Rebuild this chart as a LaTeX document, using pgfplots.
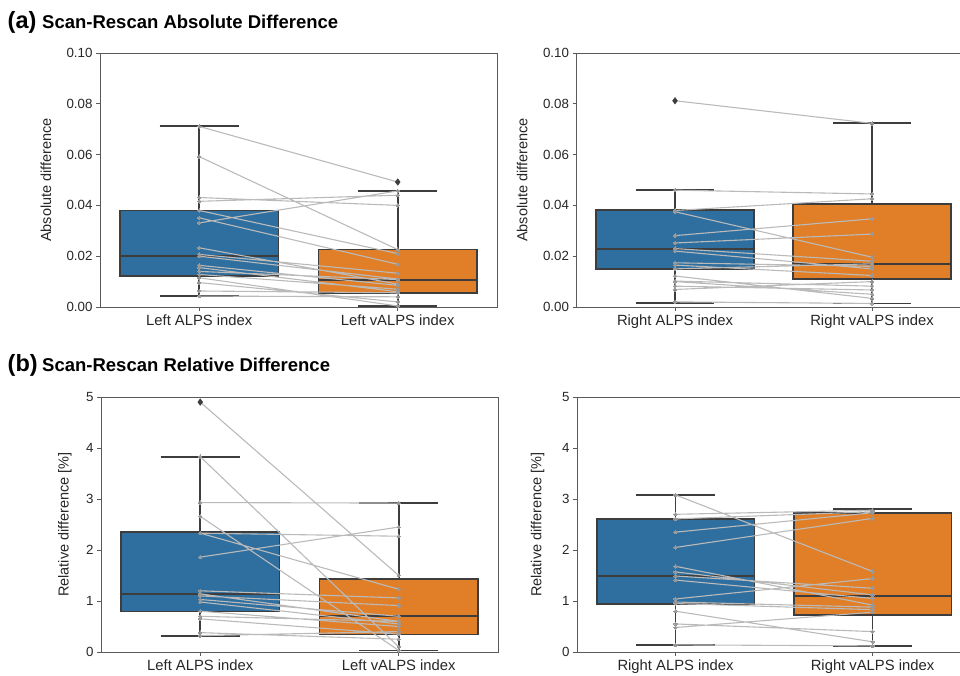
\documentclass[border=0pt]{standalone}
\usepackage{fontspec}
\setmainfont{Liberation Sans}
\usepackage{pgfplots}
\pgfplotsset{compat=1.18}
\usepgfplotslibrary{statistics}
\definecolor{sbblue}{HTML}{2E6FA0}
\definecolor{sborange}{HTML}{E07F28}
\definecolor{edge}{HTML}{3D3D3D}
\definecolor{pair}{HTML}{BABABA}
\definecolor{pairdot}{HTML}{999999}
\definecolor{frame}{HTML}{5A5A5A}
\pgfplotsset{
  panel/.style={scale only axis, anchor=south west, clip=false,
    xmin=-0.5, xmax=1.5, xtick={0,1},
    axis line style={frame, line width=0.9pt},
    tick style={frame, line width=0.9pt},
    tick align=outside, major tick length=4pt,
    xtick pos=bottom, ytick pos=left,
    yticklabel style={font=\fontsize{13.3}{15}\selectfont, text=black!85},
    xticklabel style={font=\fontsize{14.8}{17}\selectfont, text=black!85},
    label style={font=\fontsize{14.5}{16}\selectfont, text=black!85},
    /pgf/number format/assume math mode=true,
    boxplot/draw direction=y,
    boxplot/every median/.style={draw=edge, line width=1.9pt},
    boxplot/every whisker/.style={draw=edge, line width=1.8pt}},
  bx/.style={draw=edge, line width=1.6pt, fill=#1},
  pairs/.style={pair, line width=1.1pt, unbounded coords=jump, mark=*, mark size=1.7pt,
    mark options={draw=pairdot, fill=pairdot, line width=0pt}},
  outl/.style={only marks, mark=diamond*, mark size=3.2pt, mark options={draw=edge, fill=edge, line width=0.5pt}},
}
\begin{document}
\begin{tikzpicture}
\useasboundingbox (0,0) rectangle (960pt,676pt);
\clip (0,0) rectangle (960pt,676pt);

\node[anchor=base west, inner sep=0, font=\fontsize{23.5}{26}\selectfont\bfseries] at (7.5pt,647.5pt) {(a)};
\node[anchor=base west, inner sep=0, font=\fontsize{18.5}{21}\selectfont\bfseries] at (42pt,647.7pt) {Scan-Rescan Absolute Difference};
\node[anchor=base west, inner sep=0, font=\fontsize{23.5}{26}\selectfont\bfseries] at (7.5pt,304.3pt) {(b)};
\node[anchor=base west, inner sep=0, font=\fontsize{18.5}{21}\selectfont\bfseries] at (42pt,304.3pt) {Scan-Rescan Relative Difference};

% (a) left
\begin{axis}[panel, at={(100pt,369pt)}, width=397pt, height=254pt,
  ymin=0, ymax=0.1, ytick={0,0.02,0.04,0.06,0.08,0.1},
  yticklabel style={/pgf/number format/fixed, /pgf/number format/fixed zerofill, /pgf/number format/precision=2},
  xticklabels={Left ALPS index, Left vALPS index},
  ylabel={Absolute difference},
  ylabel style={at={(axis description cs:-0.136,0.5)}, anchor=center}]
\addplot[bx=sbblue, boxplot prepared={draw position=0, lower whisker=0.0043, lower quartile=0.0123, median=0.0202, upper quartile=0.038, upper whisker=0.0711, box extend=0.8, whisker extend=0.4}] coordinates {};
\addplot[bx=sborange, boxplot prepared={draw position=1, lower whisker=0.0004, lower quartile=0.0056, median=0.0108, upper quartile=0.0226, upper whisker=0.0457, box extend=0.8, whisker extend=0.4}] coordinates {};
\addplot[pairs] coordinates {
(0,0.0711) (1,0.0492) (nan,nan)
(0,0.0592) (1,0.0226) (nan,nan)
(0,0.0431) (1,0.0400) (nan,nan)
(0,0.0416) (1,0.0440) (nan,nan)
(0,0.0380) (1,0.0210) (nan,nan)
(0,0.0351) (1,0.0168) (nan,nan)
(0,0.0331) (1,0.0457) (nan,nan)
(0,0.0233) (1,0.0090) (nan,nan)
(0,0.0207) (1,0.0133) (nan,nan)
(0,0.0200) (1,0.0110) (nan,nan)
(0,0.0164) (1,0.0085) (nan,nan)
(0,0.0155) (1,0.0060) (nan,nan)
(0,0.0140) (1,0.0108) (nan,nan)
(0,0.0128) (1,0.0070) (nan,nan)
(0,0.0115) (1,0.0004) (nan,nan)
(0,0.0096) (1,0.0020) (nan,nan)
(0,0.0063) (1,0.0056) (nan,nan)
(0,0.0043) (1,0.0040)
};
\addplot[outl] coordinates {(1,0.0492)};
\end{axis}

% (a) right
\begin{axis}[panel, at={(576.5pt,369pt)}, width=394pt, height=254pt,
  ymin=0, ymax=0.1, ytick={0,0.02,0.04,0.06,0.08,0.1},
  yticklabel style={/pgf/number format/fixed, /pgf/number format/fixed zerofill, /pgf/number format/precision=2},
  xticklabels={Right ALPS index, Right vALPS index},
  ylabel={Absolute difference},
  ylabel style={at={(axis description cs:-0.138,0.5)}, anchor=center}]
\addplot[bx=sbblue, boxplot prepared={draw position=0, lower whisker=0.0017, lower quartile=0.0150, median=0.0230, upper quartile=0.0383, upper whisker=0.0460, box extend=0.8, whisker extend=0.4}] coordinates {};
\addplot[bx=sborange, boxplot prepared={draw position=1, lower whisker=0.0014, lower quartile=0.0111, median=0.0170, upper quartile=0.0406, upper whisker=0.0723, box extend=0.8, whisker extend=0.4}] coordinates {};
\addplot[pairs] coordinates {
(0,0.0812) (1,0.0723) (nan,nan)
(0,0.0460) (1,0.0445) (nan,nan)
(0,0.0380) (1,0.0426) (nan,nan)
(0,0.0375) (1,0.0196) (nan,nan)
(0,0.0281) (1,0.0347) (nan,nan)
(0,0.0252) (1,0.0287) (nan,nan)
(0,0.0230) (1,0.0180) (nan,nan)
(0,0.0220) (1,0.0150) (nan,nan)
(0,0.0174) (1,0.0160) (nan,nan)
(0,0.0165) (1,0.0124) (nan,nan)
(0,0.0150) (1,0.0170) (nan,nan)
(0,0.0122) (1,0.0034) (nan,nan)
(0,0.0102) (1,0.0082) (nan,nan)
(0,0.0100) (1,0.0050) (nan,nan)
(0,0.0082) (1,0.0067) (nan,nan)
(0,0.0069) (1,0.0100) (nan,nan)
(0,0.0020) (1,0.0014)
};
\addplot[outl] coordinates {(0,0.0812)};
\end{axis}

% (b) left
\begin{axis}[panel, at={(101pt,24pt)}, width=397pt, height=255pt,
  ymin=0, ymax=5, ytick={0,1,2,3,4,5},
  xticklabels={Left ALPS index, Left vALPS index},
  ylabel={Relative difference [\%]},
  ylabel style={at={(axis description cs:-0.091,0.5)}, anchor=center}]
\addplot[bx=sbblue, boxplot prepared={draw position=0, lower whisker=0.32, lower quartile=0.795, median=1.14, upper quartile=2.35, upper whisker=3.83, box extend=0.8, whisker extend=0.4}] coordinates {};
\addplot[bx=sborange, boxplot prepared={draw position=1, lower whisker=0.03, lower quartile=0.345, median=0.70, upper quartile=1.43, upper whisker=2.92, box extend=0.8, whisker extend=0.4}] coordinates {};
\addplot[pairs] coordinates {
(0,4.90) (1,1.50) (nan,nan)
(0,3.83) (1,0.10) (nan,nan)
(0,2.93) (1,2.92) (nan,nan)
(0,2.66) (1,0.03) (nan,nan)
(0,2.33) (1,2.27) (nan,nan)
(0,2.33) (1,1.23) (nan,nan)
(0,1.86) (1,2.45) (nan,nan)
(0,1.20) (1,1.06) (nan,nan)
(0,1.14) (1,0.60) (nan,nan)
(0,1.10) (1,0.91) (nan,nan)
(0,1.03) (1,0.70) (nan,nan)
(0,0.98) (1,0.55) (nan,nan)
(0,0.80) (1,0.50) (nan,nan)
(0,0.70) (1,0.60) (nan,nan)
(0,0.65) (1,0.35) (nan,nan)
(0,0.38) (1,0.25) (nan,nan)
(0,0.32) (1,0.40)
};
\addplot[outl] coordinates {(0,4.90)};
\end{axis}

% (b) right
\begin{axis}[panel, at={(577pt,24pt)}, width=394pt, height=255pt,
  ymin=0, ymax=5, ytick={0,1,2,3,4,5},
  xticklabels={Right ALPS index, Right vALPS index},
  ylabel={Relative difference [\%]},
  ylabel style={at={(axis description cs:-0.10,0.5)}, anchor=center}]
\addplot[bx=sbblue, boxplot prepared={draw position=0, lower whisker=0.14, lower quartile=0.94, median=1.49, upper quartile=2.61, upper whisker=3.08, box extend=0.8, whisker extend=0.4}] coordinates {};
\addplot[bx=sborange, boxplot prepared={draw position=1, lower whisker=0.12, lower quartile=0.73, median=1.09, upper quartile=2.73, upper whisker=2.80, box extend=0.8, whisker extend=0.4}] coordinates {};
\addplot[pairs] coordinates {
(0,3.08) (1,1.58) (nan,nan)
(0,2.70) (1,2.78) (nan,nan)
(0,2.61) (1,2.75) (nan,nan)
(0,2.35) (1,2.73) (nan,nan)
(0,2.05) (1,2.62) (nan,nan)
(0,1.68) (1,0.92) (nan,nan)
(0,1.57) (1,1.12) (nan,nan)
(0,1.49) (1,1.25) (nan,nan)
(0,1.41) (1,1.05) (nan,nan)
(0,1.04) (1,1.44) (nan,nan)
(0,0.98) (1,0.88) (nan,nan)
(0,0.95) (1,0.83) (nan,nan)
(0,0.80) (1,0.20) (nan,nan)
(0,0.55) (1,0.40) (nan,nan)
(0,0.48) (1,0.78) (nan,nan)
(0,0.14) (1,0.12)
};
\end{axis}
\end{tikzpicture}
\end{document}
